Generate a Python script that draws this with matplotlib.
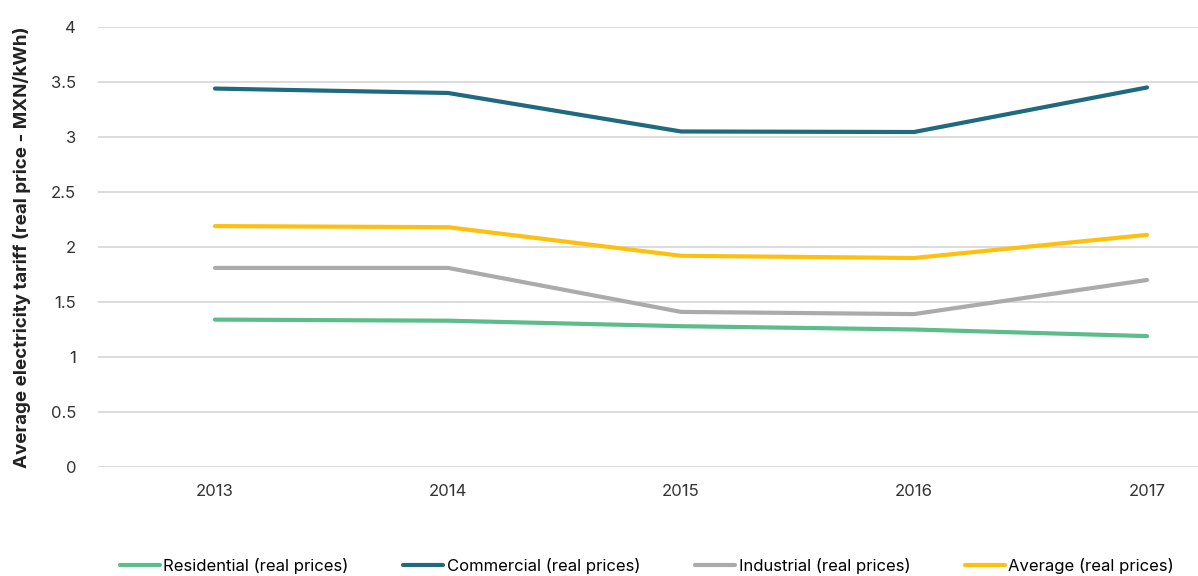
import matplotlib
matplotlib.use("Agg")
import matplotlib.pyplot as plt

plt.rcParams['font.family'] = ['Inter', 'DejaVu Sans']

years = ['2013', '2014', '2015', '2016', '2017']
residential = [1.34, 1.33, 1.28, 1.25, 1.19]
commercial = [3.44, 3.40, 3.05, 3.045, 3.45]
industrial = [1.81, 1.81, 1.41, 1.39, 1.70]
average = [2.19, 2.18, 1.92, 1.90, 2.11]

series = [
    ('Residential (real prices)', residential, '#5cbd8c'),
    ('Commercial (real prices)', commercial, '#1f6a7f'),
    ('Industrial (real prices)', industrial, '#ababab'),
    ('Average (real prices)', average, '#fec00f'),
]

fig = plt.figure(figsize=(11.98, 5.76), dpi=100)
# plot area runs a bit past the right edge of the figure
ax = fig.add_axes([0.0822, 0.1892, 0.9725, 0.764])

x = range(len(years))
for name, vals, col in series:
    ax.plot(x, vals, color=col, lw=3, label=name, solid_capstyle='round')

ax.set_xlim(-0.5, len(years) - 0.5)
ax.set_ylim(0, 4)
ax.set_yticks([0, 0.5, 1, 1.5, 2, 2.5, 3, 3.5, 4])
ax.set_yticklabels(['0', '0.5', '1', '1.5', '2', '2.5', '3', '3.5', '4'])
ax.set_xticks(list(x))
ax.set_xticklabels(years)
ax.grid(axis='y', color='#d9d9d9', lw=1.3)
ax.set_axisbelow(True)
for s in ax.spines.values():
    s.set_visible(False)
ax.tick_params(axis='both', length=0, labelsize=12, colors='#333333')
ax.tick_params(axis='y', pad=16)
ax.tick_params(axis='x', pad=12)

fig.text(0.018, 0.57, 'Average electricity tariff (real price - MXN/kWh)',
         rotation=90, ha='center', va='center', fontsize=13.5,
         fontweight='bold', color='#222222')

fig.legend(loc='center', bbox_to_anchor=(0.54, 0.017), ncol=4, frameon=False,
           fontsize=12, handlelength=2.4, handletextpad=0.2, columnspacing=3.3)

fig.savefig('out.png', dpi=100)
